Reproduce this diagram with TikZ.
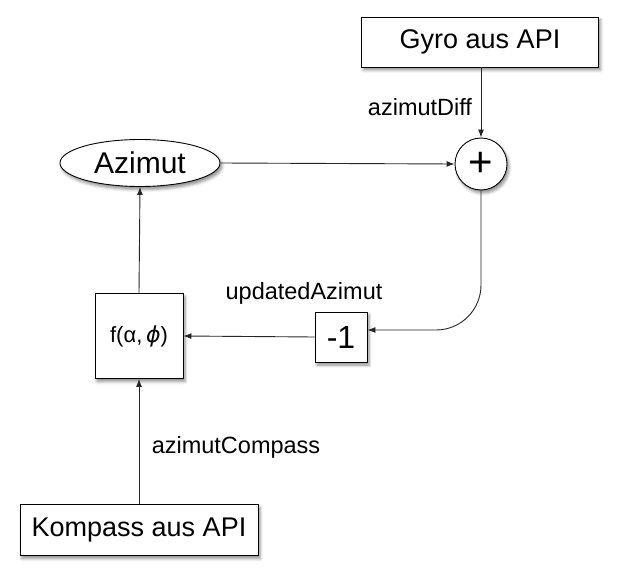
\documentclass[tikz,border=0pt]{standalone}
\usepackage{fontspec}
\setmainfont{Liberation Sans}
\newfontfamily\djv{DejaVu Sans}
\usetikzlibrary{arrows.meta,shapes.geometric,shadows.blur}
\begin{document}
\begin{tikzpicture}[x=1bp,y=-1bp,
  box/.style={draw=black,fill=white,line width=0.9bp,inner sep=0pt,
    blur shadow={shadow xshift=2bp,shadow yshift=-3bp,shadow blur radius=3bp,shadow opacity=45}},
  bigtext/.style={font=\fontsize{27bp}{30bp}\selectfont},
  lbl/.style={font=\fontsize{23.5bp}{26bp}\selectfont,inner sep=0pt},
  arr/.style={-{Latex[length=8bp,width=6bp]},line width=0.9bp,draw=black!85}]
\useasboundingbox (0,0) rectangle (619,579);
\node[box,rectangle,minimum width=237bp,minimum height=50bp,bigtext] (gyro) at (480,42) {Gyro aus API};
\node[box,circle,minimum size=52bp,font=\fontsize{42bp}{44bp}\selectfont] (plus) at (481,164) {+};
\node[box,ellipse,minimum width=160bp,minimum height=47bp,font=\fontsize{30bp}{32bp}\selectfont] (az) at (140,163) {Azimut};
\node[box,rectangle,minimum width=88bp,minimum height=85bp,font=\fontsize{22bp}{24bp}\selectfont] (f) at (139,336) {f(α,\,{\djv\itshape ϕ})};
\node[box,rectangle,minimum width=52bp,minimum height=50bp,font=\fontsize{32bp}{34bp}\selectfont] (m1) at (341,337) {-1};
\node[box,rectangle,minimum width=238bp,minimum height=51bp,bigtext] (komp) at (139,530) {Kompass aus API};
\node[lbl] (ldiff) at (420,107) {azimutDiff};
\node[lbl] (lupd) at (304,293) {updatedAzimut};
\node[lbl] (lcomp) at (236,447) {azimutCompass};
\draw[arr] (gyro.south -| plus.north) -- (plus.north);
\draw[arr] (az.east) -- (plus.west);
\draw[arr,rounded corners=45bp] (plus.south) |- ([yshift=7bp]m1.east);
\draw[arr] (m1.west) -- (f.east);
\draw[arr] (f.north) -- (az.south);
\draw[arr] (komp.north) -- (f.south);
\end{tikzpicture}
\end{document}
